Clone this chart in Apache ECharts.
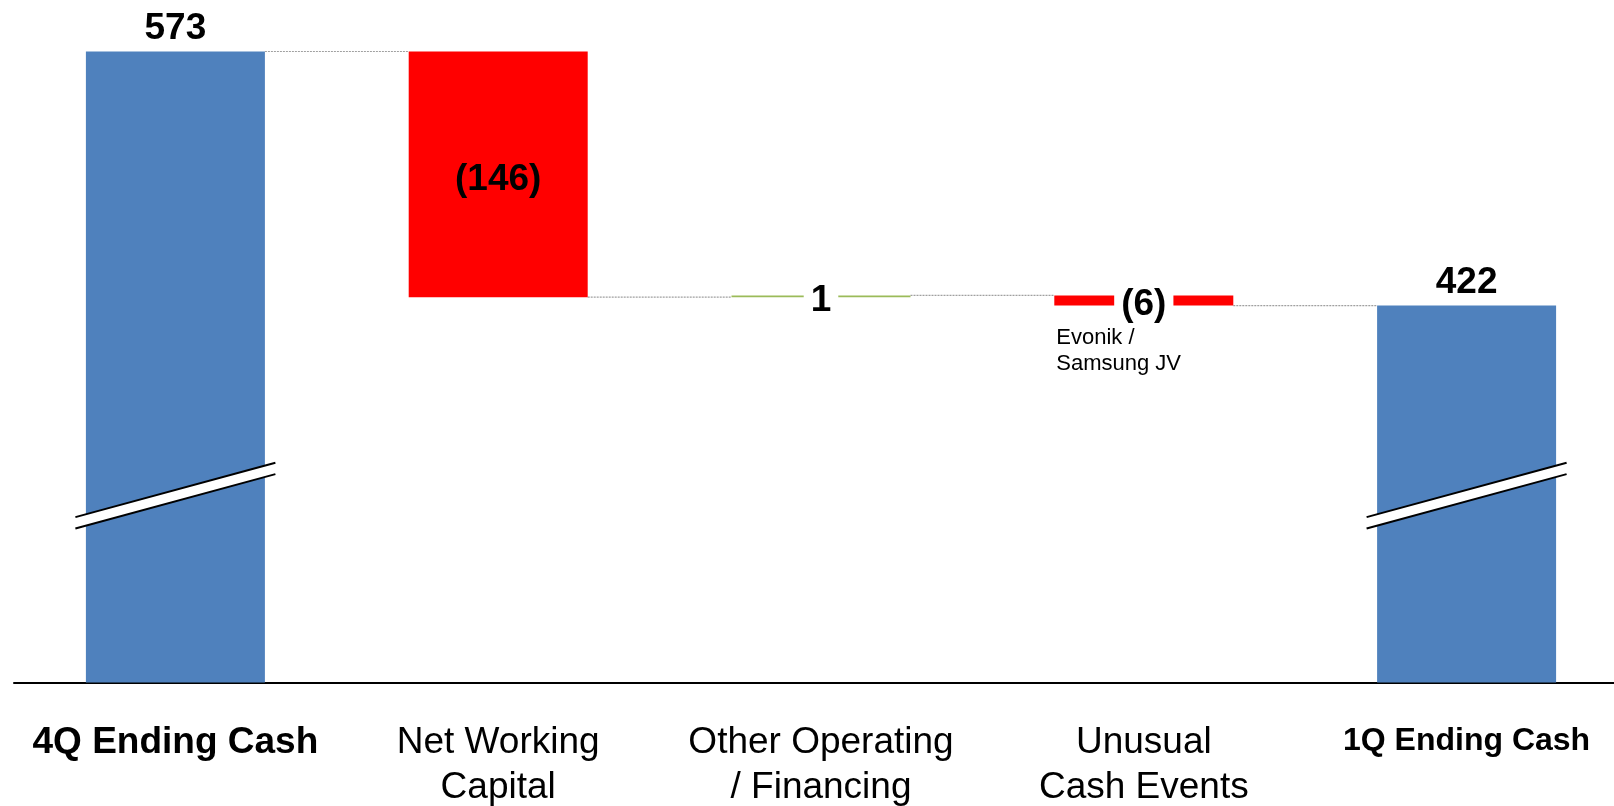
<!DOCTYPE html>
<html>
<head>
<meta charset="utf-8">
<title>Cash Walk: 4Q to 1Q</title>
<script src="https://cdn.jsdelivr.net/npm/echarts@6/dist/echarts.min.js"></script>
<style>
  html, body { margin: 0; padding: 0; background: #ffffff; }
  #chart { width: 1614px; height: 806px; }
</style>
</head>
<body>
<div id="chart"></div>
<script>
// Cash bridge: opening balance, movements, closing balance
const categories = ['4Q Ending Cash', 'Net Working\nCapital', 'Other Operating\n/ Financing', 'Unusual\nCash Events', '1Q Ending Cash'];
const amounts = [573, -146, 1, -6, 422];
const isTotal = [true, false, false, false, true];
const noteLines = ['Evonik /', 'Samsung JV'];   // note under "Unusual Cash Events"
const noteIndex = 3;
const axisMin = 198;        // value axis is broken; bars start from here
const axisMax = 573;
const breakValue = 309;     // where the break mark sits on the total bars

const FONT = '"Liberation Sans", Arial, Helvetica, sans-serif';
const BAR_W = 179;
const BLUE = '#4F81BD', RED = '#FF0000', GREEN = '#9BBB59';

// Build floating-bar geometry from the amounts
const baseData = [], barData = [], levels = [];
let running = 0;
amounts.forEach((a, i) => {
  let base, h, color;
  if (isTotal[i]) {
    base = 0; h = a; running = a; color = BLUE;
  } else if (a >= 0) {
    base = running; h = a; running += a; color = GREEN;
  } else {
    running += a; base = running; h = -a; color = RED;
  }
  levels.push(running);
  baseData.push(base);
  const fmt = isTotal[i] ? String(a) : (a < 0 ? '(' + (-a) + ')' : String(a));
  const item = { value: h, itemStyle: { color: color }, label: { show: true, formatter: fmt } };
  if (isTotal[i]) {
    item.label.position = 'top';
    item.label.distance = 4;
  } else if (h < 20) {
    // thin movement: value sits on the bar with a white cut-out
    item.label.position = 'inside';
    item.label.backgroundColor = '#ffffff';
    item.label.padding = [0, 7];
    item.label.offset = [0, a < 0 ? 4 : 5];
  } else {
    item.label.position = 'inside';
    item.label.offset = [0, 5];
  }
  barData.push(item);
});

// Connectors between consecutive bars at the running level
const connectorData = levels.slice(0, -1).map((v, i) => [i, v]);

const chart = echarts.init(document.getElementById('chart'), null, { renderer: 'canvas' });

const option = {
  animation: false,
  backgroundColor: '#ffffff',
  grid: { left: 14, top: 51.5, width: 1614, height: 630.9, containLabel: false, outerBoundsMode: 'none' },
  xAxis: {
    type: 'category',
    data: categories,
    axisLine: { show: true, lineStyle: { color: '#000000', width: 2 } },
    axisTick: { show: false },
    axisLabel: {
      interval: 0,
      margin: 38,
      color: '#000000',
      fontFamily: FONT,
      formatter: (val, idx) => {
        const key = idx === 0 ? 'b' : (idx === categories.length - 1 ? 's' : 'r');
        return val.split('\n').map(l => '{' + key + '|' + l + '}').join('\n');
      },
      rich: {
        b: { fontFamily: FONT, fontSize: 37, fontWeight: 'bold', lineHeight: 45, color: '#000' },
        r: { fontFamily: FONT, fontSize: 37, fontWeight: 'normal', lineHeight: 45, color: '#000' },
        s: { fontFamily: FONT, fontSize: 32, fontWeight: 'bold', lineHeight: 42, color: '#000' }
      }
    }
  },
  yAxis: {
    type: 'value',
    min: axisMin,
    max: axisMax,
    show: false,
    splitLine: { show: false }
  },
  series: [
    {
      name: 'base',
      type: 'bar',
      stack: 'walk',
      barWidth: BAR_W,
      itemStyle: { color: 'rgba(0,0,0,0)' },
      emphasis: { disabled: true },
      data: baseData,
      silent: true
    },
    {
      name: 'cash',
      type: 'bar',
      stack: 'walk',
      barWidth: BAR_W,
      label: {
        color: '#000000',
        fontFamily: FONT,
        fontSize: 37,
        fontWeight: 'bold'
      },
      data: barData,
      z: 3
    },
    {
      name: 'connectors',
      type: 'custom',
      silent: true,
      z: 1,
      data: connectorData,
      renderItem: (params, api) => {
        const i = api.value(0), v = api.value(1);
        const p0 = api.coord([i, v]);
        const p1 = api.coord([i + 1, v]);
        return {
          type: 'line',
          shape: { x1: p0[0] + BAR_W / 2, y1: p0[1], x2: p1[0] - BAR_W / 2, y2: p1[1] },
          style: { stroke: '#A0A0A0', lineWidth: 1.2, lineDash: [2, 1] }
        };
      }
    }
  ]
};

chart.setOption(option);

// Break marks on the total bars and the note text, placed through the axes
const graphics = [];
isTotal.forEach((t, i) => {
  if (!t) return;
  const [cx, cy] = chart.convertToPixel({ gridIndex: 0 }, [i, breakValue]);
  const half = 100, rise = 27.2, gap = 5.7;
  const ul = [cx - half, cy - gap + rise], ur = [cx + half, cy - gap - rise];
  const ll = [cx - half, cy + gap + rise], lr = [cx + half, cy + gap - rise];
  graphics.push({
    type: 'polygon', z: 10,
    shape: { points: [ul, ur, lr, ll] },
    style: { fill: '#ffffff', stroke: null }
  });
  graphics.push({
    type: 'line', z: 11,
    shape: { x1: ul[0], y1: ul[1], x2: ur[0], y2: ur[1] },
    style: { stroke: '#000000', lineWidth: 2 }
  });
  graphics.push({
    type: 'line', z: 11,
    shape: { x1: ll[0], y1: ll[1], x2: lr[0], y2: lr[1] },
    style: { stroke: '#000000', lineWidth: 2 }
  });
});

const notePos = chart.convertToPixel({ gridIndex: 0 }, [noteIndex, levels[noteIndex]]);
graphics.push({
  type: 'text', z: 12,
  x: notePos[0] - BAR_W / 2 + 2,
  y: notePos[1] + 19,
  style: {
    text: noteLines.join('\n'),
    font: '22px ' + FONT,
    fill: '#000000',
    lineHeight: 26.5,
    verticalAlign: 'top',
    align: 'left'
  }
});

chart.setOption({ graphic: graphics });
</script>
</body>
</html>
